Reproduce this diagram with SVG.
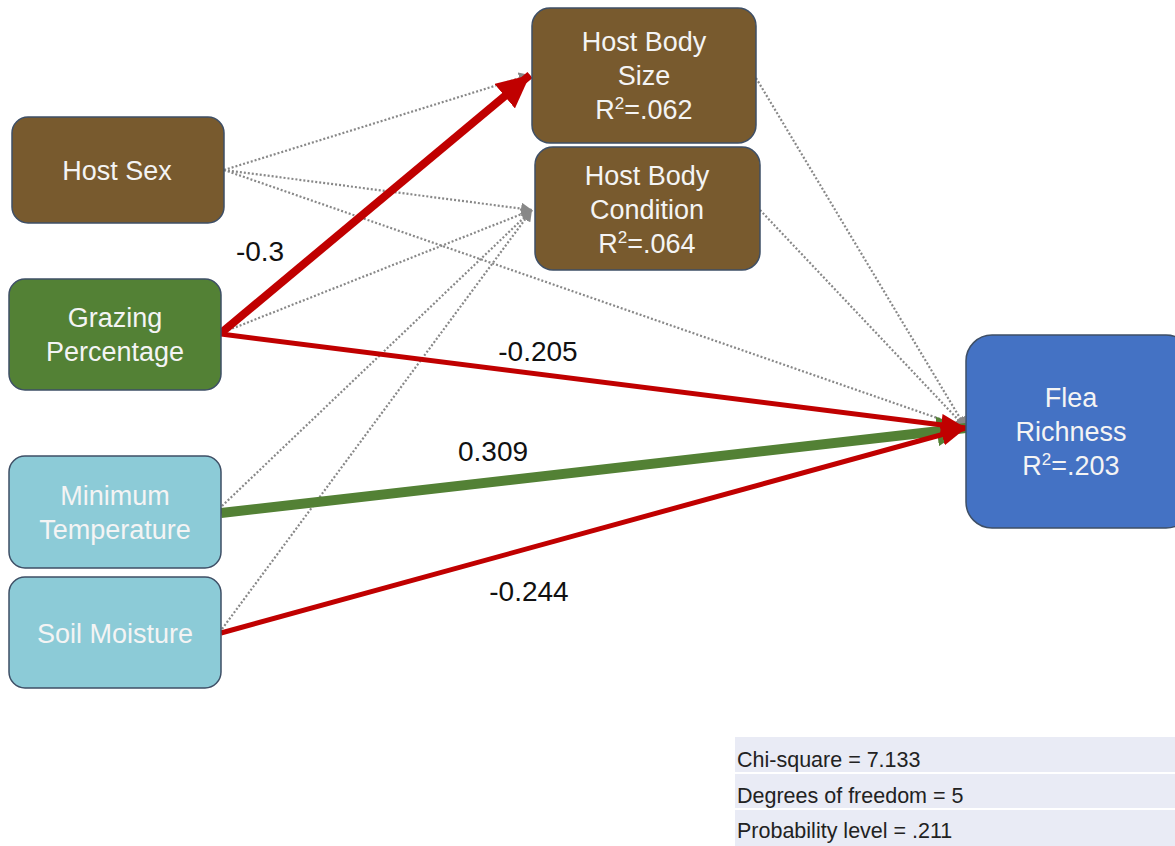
<svg xmlns="http://www.w3.org/2000/svg" width="1175" height="846" viewBox="0 0 1175 846">
  <style>
    .node { stroke: #3e4f66; stroke-width: 1.5; }
    .brown { fill: #785a2e; }
    .green { fill: #538135; }
    .cyan { fill: #8ccbd7; }
    .blue { fill: #4472c4; }
    .label { font-family: "Liberation Sans", Arial, sans-serif; font-size: 27px; fill: #f4f4f4; text-anchor: middle; }
    .sup { font-size: 17px; }
    .coef { font-family: "Liberation Sans", Arial, sans-serif; font-size: 28px; fill: #111; text-anchor: middle; }
    .dot { stroke: #888888; stroke-width: 2.2; stroke-dasharray: 2 2; fill: none; }
    .stat { font-family: "Liberation Sans", Arial, sans-serif; font-size: 21.5px; fill: #222; }
    .row { fill: #e9ebf5; }
  </style>
  <defs>
    <marker id="ahGray" markerUnits="userSpaceOnUse" markerWidth="12" markerHeight="12" refX="11" refY="6" orient="auto">
      <path d="M0,0 L11,6 L0,12 z" fill="#888888"/>
    </marker>
    <marker id="ahRedBig" markerUnits="userSpaceOnUse" markerWidth="34" markerHeight="32" refX="33" refY="16" orient="auto">
      <path d="M0,0 L33,16 L0,32 z" fill="#c00000"/>
    </marker>
    <marker id="ahRed" markerUnits="userSpaceOnUse" markerWidth="26" markerHeight="22" refX="25" refY="11" orient="auto">
      <path d="M0,0 L25,11 L0,22 z" fill="#c00000"/>
    </marker>
    <marker id="ahGreen" markerUnits="userSpaceOnUse" markerWidth="30" markerHeight="30" refX="29" refY="15" orient="auto">
      <path d="M0,0 L29,15 L0,30 z" fill="#538135"/>
    </marker>
  </defs>

  <rect width="1175" height="846" fill="#ffffff"/>

  <!-- path connectors -->
  <g id="connectors">
    <!-- non-significant paths -->
    <line class="dot" x1="224" y1="170" x2="530" y2="75" marker-end="url(#ahGray)"/>
    <line class="dot" x1="224" y1="170" x2="532" y2="210" marker-end="url(#ahGray)"/>
    <line class="dot" x1="224" y1="170" x2="966" y2="428" marker-end="url(#ahGray)"/>
    <line class="dot" x1="221" y1="333" x2="532" y2="210" marker-end="url(#ahGray)"/>
    <line class="dot" x1="222" y1="506" x2="532" y2="210" marker-end="url(#ahGray)"/>
    <line class="dot" x1="222" y1="629" x2="532" y2="210" marker-end="url(#ahGray)"/>
    <line class="dot" x1="756" y1="78" x2="966" y2="428" marker-end="url(#ahGray)"/>
    <line class="dot" x1="760" y1="210" x2="966" y2="428" marker-end="url(#ahGray)"/>
    <!-- significant paths -->
    <line x1="221" y1="513" x2="966" y2="428" stroke="#538135" stroke-width="10" marker-end="url(#ahGreen)"/>
    <line x1="221" y1="333" x2="530" y2="75" stroke="#c00000" stroke-width="8" marker-end="url(#ahRedBig)"/>
    <line x1="221" y1="334" x2="966" y2="428" stroke="#c00000" stroke-width="5" marker-end="url(#ahRed)"/>
    <line x1="221" y1="633" x2="966" y2="428" stroke="#c00000" stroke-width="5" marker-end="url(#ahRed)"/>
    <!-- path coefficients -->
    <text class="coef" x="260" y="261">-0.3</text>
    <text class="coef" x="538" y="361">-0.205</text>
    <text class="coef" x="493" y="461">0.309</text>
    <text class="coef" x="529" y="601">-0.244</text>
  </g>

  <g id="host-sex">
    <rect class="node brown" x="12" y="117" width="212" height="106" rx="16"/>
    <text class="label" x="117" y="180">Host Sex</text>
  </g>

  <g id="grazing">
    <rect class="node green" x="9" y="279" width="212" height="111" rx="16"/>
    <text class="label" x="115" y="327">Grazing</text>
    <text class="label" x="115" y="361">Percentage</text>
  </g>

  <g id="min-temp">
    <rect class="node cyan" x="9" y="456" width="212" height="112" rx="16"/>
    <text class="label" x="115" y="505">Minimum</text>
    <text class="label" x="115" y="539">Temperature</text>
  </g>

  <g id="soil-moisture">
    <rect class="node cyan" x="9" y="577" width="212" height="111" rx="16"/>
    <text class="label" x="115" y="643">Soil Moisture</text>
  </g>

  <g id="body-size">
    <rect class="node brown" x="532" y="8" width="224" height="135" rx="18"/>
    <text class="label" x="644" y="51">Host Body</text>
    <text class="label" x="644" y="85">Size</text>
    <text class="label" x="644" y="119">R<tspan class="sup" dy="-10">2</tspan><tspan dy="10">=.062</tspan></text>
  </g>

  <g id="body-condition">
    <rect class="node brown" x="535" y="147" width="225" height="123" rx="18"/>
    <text class="label" x="647" y="185">Host Body</text>
    <text class="label" x="647" y="219">Condition</text>
    <text class="label" x="647" y="253">R<tspan class="sup" dy="-10">2</tspan><tspan dy="10">=.064</tspan></text>
  </g>

  <g id="flea-richness">
    <rect class="node blue" x="966" y="335" width="226" height="193" rx="26"/>
    <text class="label" x="1071" y="407">Flea</text>
    <text class="label" x="1071" y="441">Richness</text>
    <text class="label" x="1071" y="475">R<tspan class="sup" dy="-10">2</tspan><tspan dy="10">=.203</tspan></text>
  </g>

  <g id="fit-stats">
    <rect class="row" x="735" y="737" width="440" height="35"/>
    <rect class="row" x="735" y="774" width="440" height="34"/>
    <rect class="row" x="735" y="810" width="440" height="36"/>
    <text class="stat" x="737" y="767">Chi-square = 7.133</text>
    <text class="stat" x="737" y="803">Degrees of freedom = 5</text>
    <text class="stat" x="737" y="838">Probability level = .211</text>
  </g>
</svg>
